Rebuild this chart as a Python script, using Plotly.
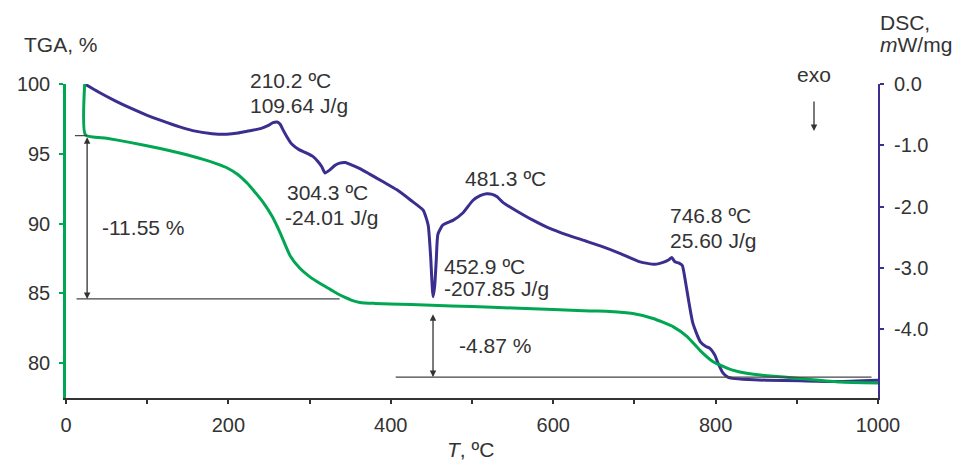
import plotly.graph_objects as go

# ---------------- data ----------------
tga_T = [23, 24, 50, 80, 116, 140, 169, 185, 198, 212, 223, 232, 243, 254, 264, 276, 288,
         300, 313, 325, 335, 343, 352, 362, 380, 399, 450, 500, 550, 600, 645, 670, 698,
         723, 748, 765, 781, 797, 810, 821, 840, 863, 904, 953, 1000]
tga_pct = [100.0, 96.35, 96.12, 95.8, 95.38, 95.05, 94.6, 94.3, 94.0, 93.5, 92.9, 92.3, 91.5,
           90.5, 89.3, 87.7, 86.8, 86.2, 85.7, 85.3, 84.95, 84.72, 84.5, 84.35, 84.28, 84.24,
           84.15, 84.05, 83.95, 83.85, 83.74, 83.7, 83.55, 83.2, 82.6, 81.9, 80.9, 80.1,
           79.75, 79.5, 79.25, 79.1, 78.9, 78.65, 78.58]

dsc_T = [23, 40, 60, 79, 100, 116, 140, 156, 180, 198, 212, 223, 235, 243, 250, 255, 260,
         264, 267, 272, 278, 287, 297, 304, 310, 315, 319, 325, 331, 337, 344, 350, 362,
         374, 390, 408, 425, 440, 446, 449, 452, 454, 456, 458, 464, 470, 477, 489, 501,
         510, 518, 525, 531, 538, 555, 575, 595, 617, 640, 658, 682, 707, 725, 737, 743,
         746, 750, 755, 759, 762, 766, 772, 781, 788, 793, 799, 803, 809, 815, 821, 840,
         863, 904, 950, 1000]
dsc_mw = [0.0, -0.13, -0.27, -0.39, -0.51, -0.59, -0.70, -0.76, -0.81, -0.82, -0.80, -0.77,
          -0.74, -0.71, -0.67, -0.63, -0.62, -0.66, -0.74, -0.86, -0.98, -1.07, -1.13, -1.18,
          -1.26, -1.35, -1.45, -1.40, -1.33, -1.29, -1.28, -1.31, -1.38, -1.47, -1.59, -1.73,
          -1.90, -2.06, -2.30, -2.80, -3.47, -3.30, -2.87, -2.45, -2.30, -2.26, -2.22, -2.10,
          -1.90, -1.82, -1.79, -1.80, -1.84, -1.93, -2.07, -2.22, -2.35, -2.46, -2.56, -2.64,
          -2.76, -2.90, -2.94, -2.90, -2.86, -2.83, -2.90, -2.92, -2.96, -3.15, -3.47, -3.90,
          -4.20, -4.28, -4.31, -4.42, -4.55, -4.71, -4.78, -4.80, -4.82, -4.83, -4.84, -4.85,
          -4.83]

x_ticks = [0, 200, 400, 600, 800, 1000]
tga_ticks = [80, 85, 90, 95, 100]
dsc_ticks = [0, -1, -2, -3, -4]
dsc_ticktext = ["0.0", "-1.0", "-2.0", "-3.0", "-4.0"]

# mass-loss steps (TGA levels, %) and their labels
step1_top, step1_bottom, step1_T = 96.3, 84.6, 26
step2_top, step2_bottom, step2_T = 83.6, 79.0, 452
step1_label = "-11.55 %"
step2_label = "-4.87 %"

GREEN = "#00a651"
PURPLE = "#3a2e8f"
TXT = "#333333"
FONT = "Liberation Sans, Arial, sans-serif"

W, H = 953, 464
L, R, T, B = 66, 878, 84, 398


def px(x):
    return (x - L) / (R - L)


def py(y):
    return (B - y) / (B - T)


fig = go.Figure()
fig.add_trace(go.Scatter(x=dsc_T, y=dsc_mw, mode="lines", yaxis="y",
                         line=dict(color=PURPLE, width=3, shape="spline", smoothing=0.5),
                         showlegend=False, hoverinfo="skip"))
fig.add_trace(go.Scatter(x=tga_T, y=tga_pct, mode="lines", yaxis="y2",
                         line=dict(color=GREEN, width=3, shape="spline", smoothing=0.5),
                         showlegend=False, hoverinfo="skip"))

fig.update_layout(
    width=W, height=H,
    margin=dict(l=L, r=W - R, t=T, b=H - B),
    paper_bgcolor="white", plot_bgcolor="white",
    font=dict(family=FONT, size=20, color=TXT),
    xaxis=dict(range=[0, 1000], tickvals=x_ticks, showgrid=False, zeroline=False,
               showline=True, linecolor="#333333", linewidth=2,
               ticks="outside", ticklen=4, tickwidth=1.5, tickcolor="#333333",
               minor=dict(dtick=100, ticks="outside", ticklen=4, tickwidth=1.5,
                          tickcolor="#333333", showgrid=False),
               ticklabelstandoff=4),
    yaxis=dict(range=[-5.12, 0], side="right", tickvals=dsc_ticks, ticktext=dsc_ticktext,
               showgrid=False, zeroline=False, showline=True, linecolor=PURPLE,
               linewidth=2, ticks="outside", ticklen=4, tickwidth=1.5, tickcolor=PURPLE,
               ticklabelstandoff=6),
    yaxis2=dict(range=[77.5, 100], side="left", overlaying="y", tickvals=tga_ticks,
                showgrid=False, zeroline=False, showline=True, linecolor=GREEN,
                linewidth=2.5, ticks="outside", ticklen=4, tickwidth=1.5, tickcolor=GREEN,
                ticklabelstandoff=5),
)

# reference lines
line_style = dict(color="#444444", width=1.2)
fig.add_shape(type="line", xref="x", yref="y2", x0=11, x1=step1_T, y0=step1_top, y1=step1_top, line=line_style)
fig.add_shape(type="line", xref="x", yref="y2", x0=13, x1=337, y0=step1_bottom, y1=step1_bottom, line=line_style)
fig.add_shape(type="line", xref="x", yref="y2", x0=406, x1=992, y0=step2_bottom, y1=step2_bottom, line=line_style)

# double arrows
for xT, ytop, ybot in [(step1_T, step1_top, step1_bottom), (step2_T, step2_top, step2_bottom)]:
    fig.add_annotation(x=xT, y=ybot, xref="x", yref="y2", ax=xT, ay=ytop, axref="x", ayref="y2",
                       text="", showarrow=True, arrowhead=2, arrowside="end+start",
                       arrowsize=1, arrowwidth=1.3, arrowcolor="#333333",
                       standoff=0, startstandoff=0)

# exo arrow
fig.add_annotation(x=px(814), y=py(131), xref="paper", yref="paper", ax=0, ay=-31,
                   text="", showarrow=True, arrowhead=2, arrowsize=1, arrowwidth=1.3,
                   arrowcolor="#333333")

texts = [
    ("210.2 ºC", 248, 80, "left"),
    ("109.64 J/g", 248, 105, "left"),
    ("304.3 ºC", 285, 192, "left"),
    ("-24.01 J/g", 283, 217, "left"),
    ("481.3 ºC", 463, 178, "left"),
    ("452.9 ºC", 442, 266, "left"),
    ("-207.85 J/g", 442, 288, "left"),
    ("746.8 ºC", 668, 215, "left"),
    ("25.60 J/g", 668, 240, "left"),
    (step1_label, 100, 227, "left"),
    (step2_label, 457, 345, "left"),
    ("exo", 814, 75, "center"),
    ("TGA, %", 22, 45, "left"),
    ("DSC,", 878, 22, "left"),
    ("<i>m</i>W/mg", 878, 45, "left"),
    ("<i>T</i>, ºC", 470, 449, "center"),
]
for t, x, y, anchor in texts:
    fig.add_annotation(x=px(x), y=py(y), xref="paper", yref="paper", text=t,
                       showarrow=False, xanchor=anchor, yanchor="middle",
                       font=dict(family=FONT, size=21, color=TXT))

fig.write_html(
    "out.html",
    config={"displayModeBar": False},
    post_script="document.body.style.margin='0';document.body.style.padding='0';"
                "document.body.style.overflow='hidden';",
)
